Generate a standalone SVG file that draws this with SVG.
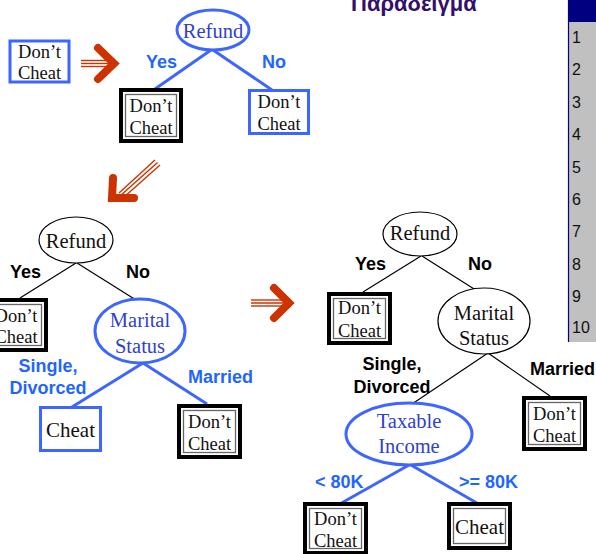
<svg xmlns="http://www.w3.org/2000/svg" width="596" height="554" viewBox="0 0 596 554">
  <defs>
    <style>
      .leaf-t { font-family: "Liberation Serif", "Times New Roman", serif; font-size: 18.5px; fill: #111; text-anchor: middle; }
      .leaf-big { font-family: "Liberation Serif", "Times New Roman", serif; font-size: 21px; fill: #111; text-anchor: middle; }
      .node-t { font-family: "Liberation Serif", "Times New Roman", serif; font-size: 20.5px; text-anchor: middle; }
      .blue-t { fill: #2f3fd0; }
      .black-t { fill: #111; }
      .lbl { font-family: "Liberation Sans", Arial, sans-serif; font-weight: bold; font-size: 18px; }
      .lbl-blue { fill: #1f66ff; }
      .lbl-black { fill: #000; }
      .edge-blue { stroke: #3d66ff; stroke-width: 3; fill: none; }
      .edge-black { stroke: #000; stroke-width: 1.2; fill: none; }
      .box-blue { fill: #fff; stroke: #3d66ff; stroke-width: 3; }
      .ell-blue { fill: #fff; stroke: #3d66ff; stroke-width: 3; }
      .ell-black { fill: #fff; stroke: #000; stroke-width: 1.2; }
      .dbl-out { fill: #fff; stroke: #000; stroke-width: 4; }
      .dbl-in { fill: none; stroke: #666; stroke-width: 1.3; }
      .arr-head { fill: none; stroke: #cc3300; stroke-width: 8; stroke-linejoin: miter; stroke-linecap: round; }
      .arr-line { stroke: #cc3300; stroke-width: 1.4; }
      .num { font-family: "Liberation Sans", Arial, sans-serif; font-size: 16px; fill: #111; }
    </style>
  </defs>

  <rect x="0" y="0" width="596" height="554" fill="#fff"/>

  <!-- heading, partly above the top edge -->
  <text x="351" y="11" font-family="'Liberation Sans', Arial, sans-serif" font-weight="bold" font-size="22" fill="#33106a">Παράδειγμα</text>

  <!-- record table strip on the right -->
  <g id="table">
    <rect x="568" y="0" width="28" height="22" fill="#000080"/>
    <rect x="568" y="22" width="28" height="320" fill="#c0c0c0"/>
    <line x1="568.5" y1="0" x2="568.5" y2="342" stroke="#000080" stroke-width="1.2"/>
    <text class="num" x="572" y="43">1</text>
    <text class="num" x="572" y="75">2</text>
    <text class="num" x="572" y="108">3</text>
    <text class="num" x="572" y="140">4</text>
    <text class="num" x="572" y="173">5</text>
    <text class="num" x="572" y="205">6</text>
    <text class="num" x="572" y="237">7</text>
    <text class="num" x="572" y="270">8</text>
    <text class="num" x="572" y="302">9</text>
    <text class="num" x="572" y="333">10</text>
  </g>

  <!-- step arrows -->
  <g id="arrows">
    <g id="arrow-1">
      <line class="arr-line" x1="81" y1="60.5" x2="108" y2="60.5"/>
      <line class="arr-line" x1="81" y1="63.5" x2="110" y2="63.5"/>
      <line class="arr-line" x1="81" y1="66.5" x2="108" y2="66.5"/>
      <polyline class="arr-head" points="98,48 114,63.5 98,79"/>
    </g>
    <g id="arrow-2">
      <line class="arr-line" x1="155" y1="160" x2="119" y2="193"/>
      <line class="arr-line" x1="157.5" y1="162.5" x2="120" y2="196"/>
      <line class="arr-line" x1="160" y1="165" x2="123" y2="198"/>
      <polyline class="arr-head" points="113,178 112,198 134,198"/>
    </g>
    <g id="arrow-3">
      <line class="arr-line" x1="251" y1="300" x2="283" y2="300"/>
      <line class="arr-line" x1="251" y1="303" x2="286" y2="303"/>
      <line class="arr-line" x1="251" y1="306" x2="283" y2="306"/>
      <polyline class="arr-head" points="274,288 289,303 274,318"/>
    </g>
  </g>

  <!-- tree edges -->
  <g id="connectors">
    <line class="edge-blue" x1="211" y1="50" x2="155" y2="89"/>
    <line class="edge-blue" x1="213" y1="50" x2="272" y2="90"/>

    <line class="edge-black" x1="76" y1="263" x2="20" y2="298"/>
    <line class="edge-black" x1="77" y1="263" x2="136" y2="300"/>
    <line class="edge-blue" x1="143" y1="363" x2="72" y2="407"/>
    <line class="edge-blue" x1="143" y1="363" x2="207" y2="404"/>

    <line class="edge-black" x1="421" y1="256" x2="363" y2="292"/>
    <line class="edge-black" x1="422" y1="256" x2="482" y2="294"/>
    <line class="edge-black" x1="488" y1="353" x2="412" y2="404"/>
    <line class="edge-black" x1="488" y1="353" x2="550" y2="396"/>
    <line class="edge-blue" x1="409" y1="465" x2="338" y2="505"/>
    <line class="edge-blue" x1="411" y1="465" x2="482" y2="506"/>
  </g>

  <!-- edge labels -->
  <g id="labels">
    <text class="lbl lbl-blue" x="146" y="68" font-size="17">Yes</text>
    <text class="lbl lbl-blue" x="262" y="68" font-size="17">No</text>

    <text class="lbl lbl-black" x="10" y="278">Yes</text>
    <text class="lbl lbl-black" x="126" y="278">No</text>
    <text class="lbl lbl-blue" x="48" y="372" text-anchor="middle">Single,</text>
    <text class="lbl lbl-blue" x="48" y="394" text-anchor="middle">Divorced</text>
    <text class="lbl lbl-blue" x="188" y="383">Married</text>

    <text class="lbl lbl-black" x="355" y="270">Yes</text>
    <text class="lbl lbl-black" x="468" y="270">No</text>
    <text class="lbl lbl-black" x="392" y="370" text-anchor="middle">Single,</text>
    <text class="lbl lbl-black" x="392" y="393" text-anchor="middle">Divorced</text>
    <text class="lbl lbl-black" x="530" y="375">Married</text>
    <text class="lbl lbl-blue" x="315" y="488">&lt; 80K</text>
    <text class="lbl lbl-blue" x="459" y="488">&gt;= 80K</text>
  </g>

  <!-- tree 1 -->
  <g id="t1-start">
    <rect class="box-blue" x="10" y="41" width="59" height="41"/>
    <text class="leaf-t" x="39.5" y="58">Don’t</text>
    <text class="leaf-t" x="39.5" y="79">Cheat</text>
  </g>
  <g id="t1-refund">
    <ellipse class="ell-blue" cx="213" cy="30" rx="36" ry="20"/>
    <text class="node-t blue-t" x="213" y="38">Refund</text>
  </g>
  <g id="t1-yes">
    <rect class="dbl-out" x="121" y="90" width="60" height="51"/>
    <rect class="dbl-in" x="125.5" y="94.5" width="51" height="42"/>
    <text class="leaf-t" x="151" y="112">Don’t</text>
    <text class="leaf-t" x="151" y="134">Cheat</text>
  </g>
  <g id="t1-no">
    <rect class="box-blue" x="249.5" y="90.5" width="59" height="43"/>
    <text class="leaf-t" x="279" y="108">Don’t</text>
    <text class="leaf-t" x="279" y="130">Cheat</text>
  </g>

  <!-- tree 2 -->
  <g id="t2-refund">
    <ellipse class="ell-black" cx="76" cy="240" rx="37" ry="23"/>
    <text class="node-t black-t" x="76" y="248">Refund</text>
  </g>
  <g id="t2-yes">
    <rect class="dbl-out" x="-14" y="300" width="60" height="50"/>
    <rect class="dbl-in" x="-9.5" y="304.5" width="51" height="41"/>
    <text class="leaf-t" x="16" y="322">Don’t</text>
    <text class="leaf-t" x="16" y="343">Cheat</text>
  </g>
  <g id="t2-marital">
    <ellipse class="ell-blue" cx="140" cy="331" rx="45" ry="32"/>
    <text class="node-t blue-t" x="140" y="327">Marital</text>
    <text class="node-t blue-t" x="140" y="353">Status</text>
  </g>
  <g id="t2-single">
    <rect class="box-blue" x="40.5" y="407.5" width="60" height="43"/>
    <text class="leaf-big" x="70.5" y="437">Cheat</text>
  </g>
  <g id="t2-married">
    <rect class="dbl-out" x="179" y="406" width="61" height="51"/>
    <rect class="dbl-in" x="183.5" y="410.5" width="52" height="42"/>
    <text class="leaf-t" x="209.5" y="428">Don’t</text>
    <text class="leaf-t" x="209.5" y="450">Cheat</text>
  </g>

  <!-- tree 3 -->
  <g id="t3-refund">
    <ellipse class="ell-black" cx="420" cy="234" rx="37" ry="22"/>
    <text class="node-t black-t" x="420" y="240">Refund</text>
  </g>
  <g id="t3-yes">
    <rect class="dbl-out" x="329" y="294" width="61" height="49"/>
    <rect class="dbl-in" x="333.5" y="298.5" width="52" height="40"/>
    <text class="leaf-t" x="359.5" y="314">Don’t</text>
    <text class="leaf-t" x="359.5" y="337">Cheat</text>
  </g>
  <g id="t3-marital">
    <ellipse class="ell-black" cx="484" cy="321" rx="46" ry="33"/>
    <text class="node-t black-t" x="484" y="320">Marital</text>
    <text class="node-t black-t" x="484" y="345">Status</text>
  </g>
  <g id="t3-married">
    <rect class="dbl-out" x="524" y="398" width="61" height="51"/>
    <rect class="dbl-in" x="528.5" y="402.5" width="52" height="42"/>
    <text class="leaf-t" x="554.5" y="420">Don’t</text>
    <text class="leaf-t" x="554.5" y="442">Cheat</text>
  </g>
  <g id="t3-income">
    <ellipse class="ell-blue" cx="409" cy="434" rx="63" ry="31"/>
    <text class="node-t blue-t" x="409" y="428">Taxable</text>
    <text class="node-t blue-t" x="409" y="453">Income</text>
  </g>
  <g id="t3-low">
    <rect class="dbl-out" x="305" y="504" width="61" height="49"/>
    <rect class="dbl-in" x="309.5" y="508.5" width="52" height="40"/>
    <text class="leaf-t" x="335.5" y="525">Don’t</text>
    <text class="leaf-t" x="335.5" y="547">Cheat</text>
  </g>
  <g id="t3-high">
    <rect class="dbl-out" x="449" y="504" width="61" height="44"/>
    <rect class="dbl-in" x="453.5" y="508.5" width="52" height="35"/>
    <text class="leaf-big" x="479.5" y="534">Cheat</text>
  </g>
</svg>
